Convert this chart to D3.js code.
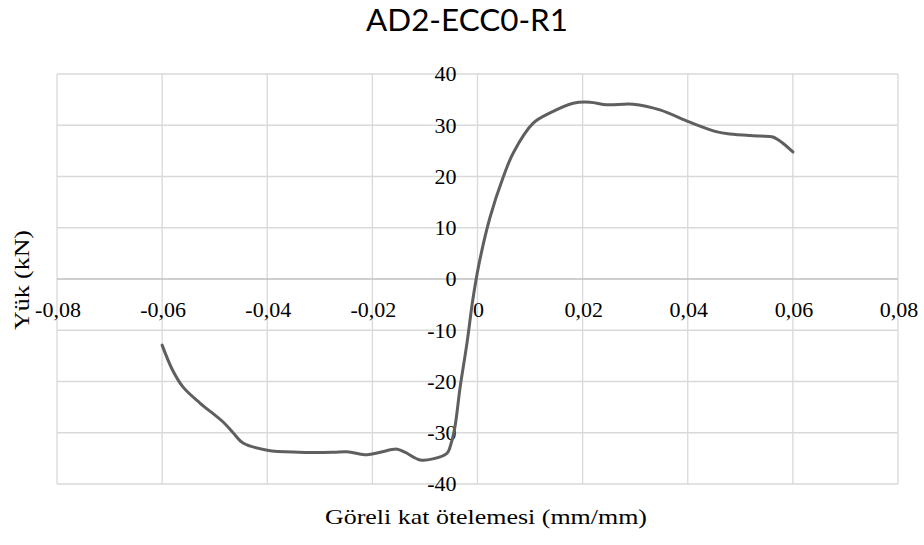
<!DOCTYPE html>
<html>
<head>
<meta charset="utf-8">
<script src="https://cdn.jsdelivr.net/npm/d3@7"></script>
<style>
  body { margin: 0; background: #fff; }
  text { fill: #000; }
</style>
</head>
<body>
<div id="chart"></div>
<script>
// Data (drift ratio vs load)
const drift = [-0.06, -0.058, -0.056, -0.0528, -0.0484, -0.0465, -0.0446, -0.040, -0.034, -0.0275,
  -0.0248, -0.021, -0.0185, -0.0153, -0.0138, -0.0109, -0.0085, -0.0058, -0.0050, -0.0043,
  -0.0033, -0.0020, -0.0009, 0.0003, 0.0024, 0.0049, 0.0068, 0.0106, 0.0138, 0.0182,
  0.0214, 0.0246, 0.0296, 0.0347, 0.0404, 0.0456, 0.048, 0.0537, 0.0562, 0.0581, 0.060];
const load = [-12.9, -17.8, -21.1, -24.2, -27.9, -30.0, -32.0, -33.4, -33.8, -33.8,
  -33.7, -34.3, -33.8, -33.2, -33.8, -35.3, -35.1, -34.0, -32.0, -28.9,
  -21.1, -12.5, -4.1, 3.0, 12.1, 19.9, 24.6, 30.4, 32.4, 34.3,
  34.5, 34.0, 34.1, 33.0, 30.6, 28.7, 28.3, 27.9, 27.7, 26.5, 24.8];
const xTicks = [-0.08, -0.06, -0.04, -0.02, 0, 0.02, 0.04, 0.06, 0.08];
const yTicks = [-40, -30, -20, -10, 0, 10, 20, 30, 40];

const svgWidth = 924, svgHeight = 545;
const margin = {top: 74, right: 26, bottom: 61, left: 57};
const width = svgWidth - margin.left - margin.right;
const height = svgHeight - margin.top - margin.bottom;
const serif = "'Liberation Serif', 'Times New Roman', serif";

const locale = d3.formatLocale({decimal: ",", thousands: ".", grouping: [3], currency: ["", ""], minus: "-"});
const fmt = d => d === 0 ? "0" : locale.format(".2f")(d);

const svg = d3.select("#chart").append("svg")
  .attr("width", svgWidth)
  .attr("height", svgHeight);

const g = svg.append("g")
  .attr("transform", "translate(" + margin.left + "," + margin.top + ")");

const x = d3.scaleLinear().domain([-0.08, 0.08]).range([0, width]);
const y = d3.scaleLinear().domain([-40, 40]).range([height, 0]);

// Gridlines
g.selectAll(".vgrid").data(xTicks).enter().append("line")
  .attr("x1", d => x(d)).attr("x2", d => x(d))
  .attr("y1", 0).attr("y2", height)
  .attr("stroke", "#d9d9d9").attr("stroke-width", 1.3);

g.selectAll(".hgrid").data(yTicks).enter().append("line")
  .attr("x1", 0).attr("x2", width)
  .attr("y1", d => y(d)).attr("y2", d => y(d))
  .attr("stroke", d => d === 0 ? "#bfbfbf" : "#d9d9d9").attr("stroke-width", 1.3);

// Tick labels
g.selectAll(".xlab").data(xTicks).enter().append("text")
  .attr("x", d => x(d) + 1)
  .attr("y", y(0) + 38)
  .attr("text-anchor", "middle")
  .style("font-family", serif)
  .style("font-size", "22px")
  .text(fmt);

g.selectAll(".ylab").data(yTicks).enter().append("text")
  .attr("x", x(0) - 21)
  .attr("y", d => y(d))
  .attr("dy", "0.33em")
  .attr("text-anchor", "end")
  .style("font-family", serif)
  .style("font-size", "22px")
  .text(d => d);

// Curve
const pts = drift.map((d, i) => [d, load[i]]);
const line = d3.line()
  .x(d => x(d[0]))
  .y(d => y(d[1]))
  .curve(d3.curveCatmullRom.alpha(0.5));

g.append("path")
  .datum(pts)
  .attr("fill", "none")
  .attr("stroke", "#5f5f5f")
  .attr("stroke-width", 3)
  .attr("stroke-linejoin", "round")
  .attr("stroke-linecap", "round")
  .attr("d", line);

// Title
svg.append("text")
  .attr("x", 467)
  .attr("y", 31)
  .attr("text-anchor", "middle")
  .attr("textLength", 202)
  .attr("lengthAdjust", "spacingAndGlyphs")
  .style("font-family", "Lato, 'Open Sans', sans-serif")
  .style("font-size", "31px")
  .text("AD2-ECC0-R1");

// Axis titles
svg.append("text")
  .attr("x", 486)
  .attr("y", 524)
  .attr("text-anchor", "middle")
  .attr("textLength", 322)
  .attr("lengthAdjust", "spacingAndGlyphs")
  .style("font-family", serif)
  .style("font-size", "22px")
  .text("Göreli kat ötelemesi (mm/mm)");

svg.append("text")
  .attr("transform", "translate(29,280) rotate(-90)")
  .attr("text-anchor", "middle")
  .attr("textLength", 100)
  .attr("lengthAdjust", "spacingAndGlyphs")
  .style("font-family", serif)
  .style("font-size", "22px")
  .text("Yük (kN)");
</script>
</body>
</html>
